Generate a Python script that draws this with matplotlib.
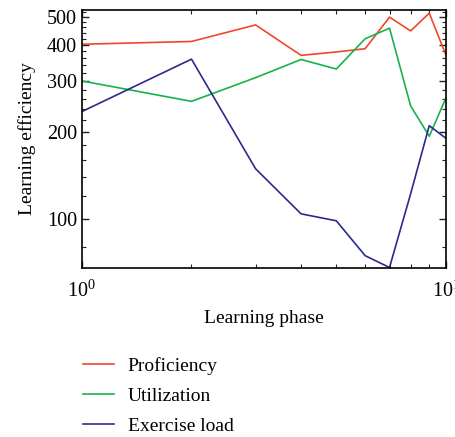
"""Learning efficiency vs learning phase (log-log)."""
import matplotlib
matplotlib.use("Agg")
import matplotlib.pyplot as plt
from matplotlib.ticker import FixedLocator, MultipleLocator, ScalarFormatter, NullFormatter

phase = [1, 2, 3, 4, 5, 6, 7, 8, 9, 10]
proficiency = [402, 411, 469, 368, 378, 388, 499, 447, 515, 369]
utilization = [300, 255, 308, 356, 330, 420, 457, 246, 193, 262]
exercise_load = [235, 357, 149, 104, 98.4, 74.5, 67.8, 122, 210, 190]
y_ticks = [100, 200, 300, 400, 500]

plt.rcParams['font.family'] = ['Liberation Serif', 'DejaVu Serif']
plt.rcParams['mathtext.fontset'] = 'stix'

fig = plt.figure(figsize=(4.55, 4.37), dpi=100)
ax = fig.add_axes([0.180, 0.387, 0.800, 0.590])

ax.plot(phase, proficiency, color="#f2462a", lw=1.2, label="Proficiency")
ax.plot(phase, utilization, color="#19b14b", lw=1.2, label="Utilization")
ax.plot(phase, exercise_load, color="#2b2a8c", lw=1.2, label="Exercise load")

ax.set_xscale("log")
ax.set_yscale("log")
ax.set_xlim(1, 10)
ax.set_ylim(67.6, 528)

ax.xaxis.set_minor_formatter(NullFormatter())
ax.yaxis.set_major_locator(FixedLocator(y_ticks))
ax.yaxis.set_major_formatter(ScalarFormatter())
ax.yaxis.set_minor_locator(MultipleLocator(20))
ax.yaxis.set_minor_formatter(NullFormatter())

ax.tick_params(which="both", direction="in", top=True, right=True,
               labelsize=14.5, color="#222222")
ax.tick_params(which="major", length=5, width=1)
ax.tick_params(which="minor", length=3, width=0.8)
ax.tick_params(axis="x", pad=9)
for s in ax.spines.values():
    s.set_linewidth(1.2)

ax.set_xlabel("Learning phase", fontsize=14, labelpad=6)
ax.set_ylabel("Learning efficiency", fontsize=14, labelpad=8)

fig.legend(loc="upper left", bbox_to_anchor=(0.182, 0.183), frameon=False,
           fontsize=14, handlelength=1.6, handletextpad=0.7, labelspacing=0.63,
           borderpad=0, borderaxespad=0)

fig.savefig("out.png", dpi=100)
